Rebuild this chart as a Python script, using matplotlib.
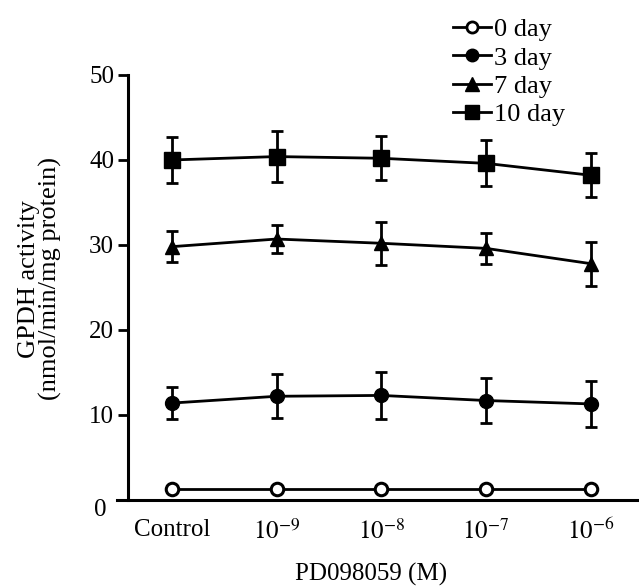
import numpy as np
import matplotlib.pyplot as plt
from matplotlib.lines import Line2D
from matplotlib.transforms import ScaledTranslation

plt.rcParams['font.family'] = ['Liberation Serif', 'DejaVu Serif']
plt.rcParams['mathtext.fontset'] = 'stix'

# data
doses = ['Control', '$10^{-9}$', '$10^{-8}$', '$10^{-7}$', '$10^{-6}$']
day0 = [1.3, 1.3, 1.3, 1.3, 1.3]
day3 = [11.4, 12.2, 12.3, 11.7, 11.3]
day3_err = [1.9, 2.6, 2.8, 2.6, 2.7]
day7 = [29.8, 30.7, 30.2, 29.6, 27.8]
day7_err = [1.8, 1.7, 2.5, 1.8, 2.6]
day10 = [40.0, 40.4, 40.2, 39.6, 38.2]
day10_err = [2.7, 3.0, 2.6, 2.7, 2.6]
series_labels = ['0 day', '3 day', '7 day', '10 day']

x = np.arange(len(doses))

fig = plt.figure(figsize=(6.39, 5.88), dpi=100)
ax = fig.add_axes([0.1831, 0.1497, 0.8169, 0.7228])

ebkw = dict(color='black', lw=2, capsize=4.5, capthick=2, elinewidth=2, clip_on=False)
ax.plot(x, day0, '-o', color='black', lw=2, ms=9, mfc='white', mew=2.2, clip_on=False)
ax.errorbar(x, day3, yerr=day3_err, fmt='-o', ms=10, **ebkw)
ax.errorbar(x, day7, yerr=day7_err, fmt='-^', ms=10.5, **ebkw)
ax.errorbar(x, day10, yerr=day10_err, fmt='-s', ms=11, **ebkw)

ax.set_xlim(-0.522, 4.459)
ax.set_ylim(0, 50)
ax.spines['left'].set_position(('data', -0.416))
ax.spines['top'].set_visible(False)
ax.spines['right'].set_visible(False)
ax.spines['left'].set_linewidth(2.2)
ax.spines['bottom'].set_linewidth(2.2)

ax.set_xticks(x)
ax.set_xticklabels(doses)
ax.set_yticks([0, 10, 20, 30, 40, 50])
ax.tick_params(axis='x', length=0, pad=13.5, labelsize=18)
ax.tick_params(axis='y', length=7, width=2, direction='out', pad=3, labelsize=18)

# the "0" label sits lower-left, below the extended x axis
t0 = ax.yaxis.get_major_ticks()[0]
t0.tick1line.set_visible(False)
t0.label1.set_transform(t0.label1.get_transform() +
                        ScaledTranslation(-0.08, -0.08, fig.dpi_scale_trans))

ax.set_xlabel('PD098059 (M)', fontsize=18, ha='center', va='top')
ax.xaxis.set_label_coords(0.487, -0.147)
fig.text(40 / 639, 1 - 279 / 588, 'GPDH activity\n(nmol/min/mg protein)',
         fontsize=19, rotation=90, ha='center', va='center', linespacing=0.97)

handles = [
    Line2D([], [], color='black', lw=2, marker='o', ms=8, mfc='white', mew=2),
    Line2D([], [], color='black', lw=2, marker='o', ms=9),
    Line2D([], [], color='black', lw=2, marker='^', ms=10),
    Line2D([], [], color='black', lw=2, marker='s', ms=10),
]
fig.legend(handles, series_labels, loc='upper left',
           bbox_to_anchor=(453 / 639, 1 - 18 / 588),
           frameon=False, fontsize=19, handlelength=1.45, handletextpad=0.1,
           labelspacing=0.18, borderpad=0, borderaxespad=0)

fig.savefig('out.png', dpi=100)
